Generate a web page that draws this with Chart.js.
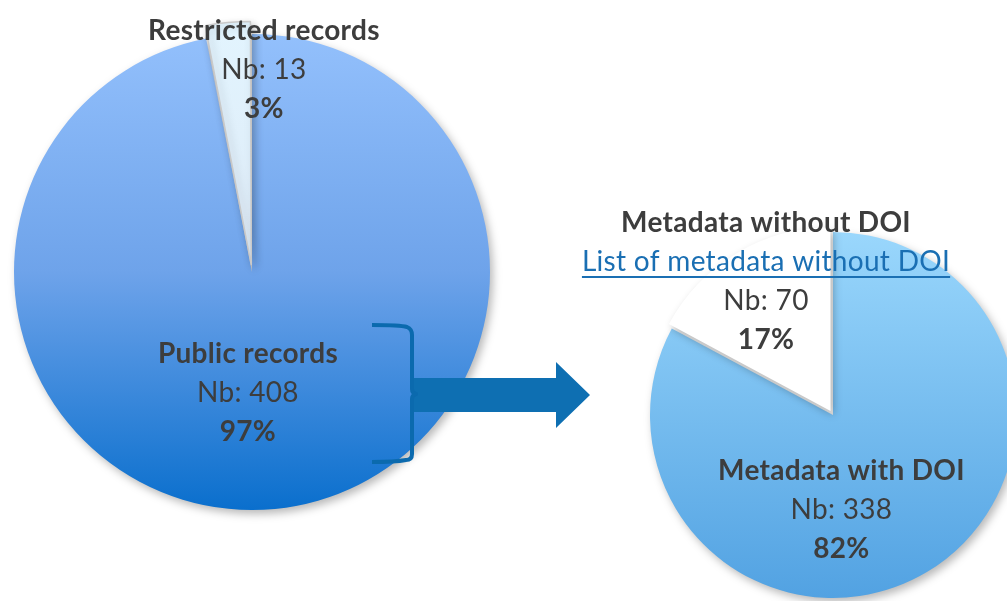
<!DOCTYPE html>
<html>
<head>
<meta charset="utf-8">
<script src="https://cdn.jsdelivr.net/npm/chart.js@4"></script>
<style>
html,body{margin:0;padding:0;background:#fff;overflow:hidden;width:1007px;height:601px}
canvas{position:absolute;left:0;top:0}
</style>
</head>
<body>
<canvas id="c1" width="1007" height="601"></canvas>
<canvas id="c2" width="1007" height="601"></canvas>
<script>
// ---- data ----
const recordCategories = ['Public records', 'Restricted records'];
const recordCounts = [408, 13];
const recordPercents = ['97%', '3%'];

const metadataCategories = ['Metadata with DOI', 'Metadata without DOI'];
const metadataCounts = [338, 70];
const metadataPercents = ['82%', '17%'];
const metadataLinkText = 'List of metadata without DOI';

// ---- styles ----
const FONT = 'Lato';
const FONT_SIZE = 28;
const LINE_H = 39;
const TEXT_COLOR = '#3d3d3d';
const LINK_COLOR = '#1a6fb3';

function vGradient(chart, r, stops) {
  const a = chart.chartArea;
  if (!a) return stops[0][1];
  const cy = (a.top + a.bottom) / 2;
  const g = chart.ctx.createLinearGradient(0, cy - r, 0, cy + r);
  stops.forEach(s => g.addColorStop(s[0], s[1]));
  return g;
}

const labelPlugin = {
  id: 'sliceLabels',
  beforeDatasetsDraw(chart) {
    const ctx = chart.ctx;
    ctx.save();
    ctx.shadowColor = 'rgba(0,0,0,0.28)';
    ctx.shadowBlur = 8;
    ctx.shadowOffsetX = 3;
    ctx.shadowOffsetY = 4;
  },
  afterDatasetsDraw(chart, args, opts) {
    const ctx = chart.ctx;
    ctx.restore();
    const meta = chart.getDatasetMeta(0);
    const el = meta.data[0];
    const r = meta.controller.outerRadius;
    ctx.save();
    ctx.textAlign = 'center';
    ctx.textBaseline = 'alphabetic';
    if ('letterSpacing' in ctx) ctx.letterSpacing = '0.3px';
    (opts.items || []).forEach(item => {
      const x = el.x + item.dx * r;
      let y = el.y + item.dy * r;
      item.lines.forEach(line => {
        ctx.font = (line.bold ? 'bold ' : '') + FONT_SIZE + 'px ' + FONT;
        ctx.fillStyle = line.link ? LINK_COLOR : TEXT_COLOR;
        ctx.fillText(line.text, x, y);
        if (line.link) {
          const w = ctx.measureText(line.text).width;
          ctx.fillRect(x - w / 2, y + 5, w, 2);
        }
        y += LINE_H;
      });
    });
    ctx.restore();
  }
};

const arrowPlugin = {
  id: 'arrowBracket',
  afterDraw(chart) {
    const ctx = chart.ctx;
    ctx.save();
    // arrow
    ctx.fillStyle = '#0e6fb2';
    ctx.beginPath();
    ctx.moveTo(413, 378);
    ctx.lineTo(556, 378);
    ctx.lineTo(556, 362);
    ctx.lineTo(590, 395);
    ctx.lineTo(556, 428);
    ctx.lineTo(556, 412);
    ctx.lineTo(413, 412);
    ctx.closePath();
    ctx.fill();
    // bracket
    ctx.strokeStyle = '#0b6aae';
    ctx.lineWidth = 4;
    ctx.lineJoin = 'round';
    ctx.beginPath();
    ctx.moveTo(372, 325);
    ctx.quadraticCurveTo(400, 325, 407, 327);
    ctx.quadraticCurveTo(412, 329, 412, 335);
    ctx.lineTo(412, 389);
    ctx.quadraticCurveTo(412, 393, 416, 394);
    ctx.quadraticCurveTo(412, 395, 412, 399);
    ctx.lineTo(412, 454);
    ctx.quadraticCurveTo(412, 460, 406, 460);
    ctx.quadraticCurveTo(395, 462, 372, 462);
    ctx.stroke();
    ctx.restore();
  }
};

function block(cat, count, pct, link) {
  const lines = [{ text: cat, bold: true }];
  if (link) lines.push({ text: link, link: true });
  lines.push({ text: 'Nb: ' + count });
  lines.push({ text: pct, bold: true });
  return lines;
}

const LEFT_R = 238;
const RIGHT_R = 183;

new Chart(document.getElementById('c1'), {
  type: 'pie',
  data: {
    labels: recordCategories,
    datasets: [{
      data: recordCounts,
      radius: LEFT_R,
      clip: false,
      offset: [0, 28],
      borderWidth: [0, 1.5],
      borderColor: ['rgba(0,0,0,0)', '#c9c9c9'],
      backgroundColor: (c) => c.dataIndex === 0
        ? vGradient(c.chart, LEFT_R, [[0, '#93c0fc'], [0.5, '#6ea3ea'], [1, '#0a6fcd']])
        : vGradient(c.chart, LEFT_R, [[0, '#e2f4fe'], [0.6, '#dde9f6'], [1, '#dde9f6']])
    }]
  },
  options: {
    responsive: false,
    animation: false,
    events: [],
    layout: { padding: { left: 0, top: 0, right: 503, bottom: 57 } },
    plugins: {
      legend: { display: false },
      tooltip: { enabled: false },
      sliceLabels: {
        items: [
          { dx: -0.017, dy: 0.382, lines: block(recordCategories[0], recordCounts[0], recordPercents[0]) },
          { dx: 0.05, dy: -0.975, lines: block(recordCategories[1], recordCounts[1], recordPercents[1]) }
        ]
      }
    }
  },
  plugins: [labelPlugin, arrowPlugin]
});

new Chart(document.getElementById('c2'), {
  type: 'pie',
  data: {
    labels: metadataCategories,
    datasets: [{
      data: metadataCounts,
      radius: RIGHT_R,
      clip: false,
      offset: [0, 19],
      borderWidth: 0,
      backgroundColor: (c) => c.dataIndex === 0
        ? vGradient(c.chart, RIGHT_R, [[0, '#9ad7fc'], [1, '#52a2e2']])
        : '#ffffff'
    }]
  },
  options: {
    responsive: false,
    animation: false,
    events: [],
    layout: { padding: { left: 659, top: 229, right: 0, bottom: 0 } },
    plugins: {
      legend: { display: false },
      tooltip: { enabled: false },
      sliceLabels: {
        items: [
          { dx: 0.046, dy: 0.355, lines: block(metadataCategories[0], metadataCounts[0], metadataPercents[0]) },
          { dx: -0.366, dy: -1.0, lines: block(metadataCategories[1], metadataCounts[1], metadataPercents[1], metadataLinkText) }
        ]
      }
    }
  },
  plugins: [labelPlugin]
});
</script>
</body>
</html>
